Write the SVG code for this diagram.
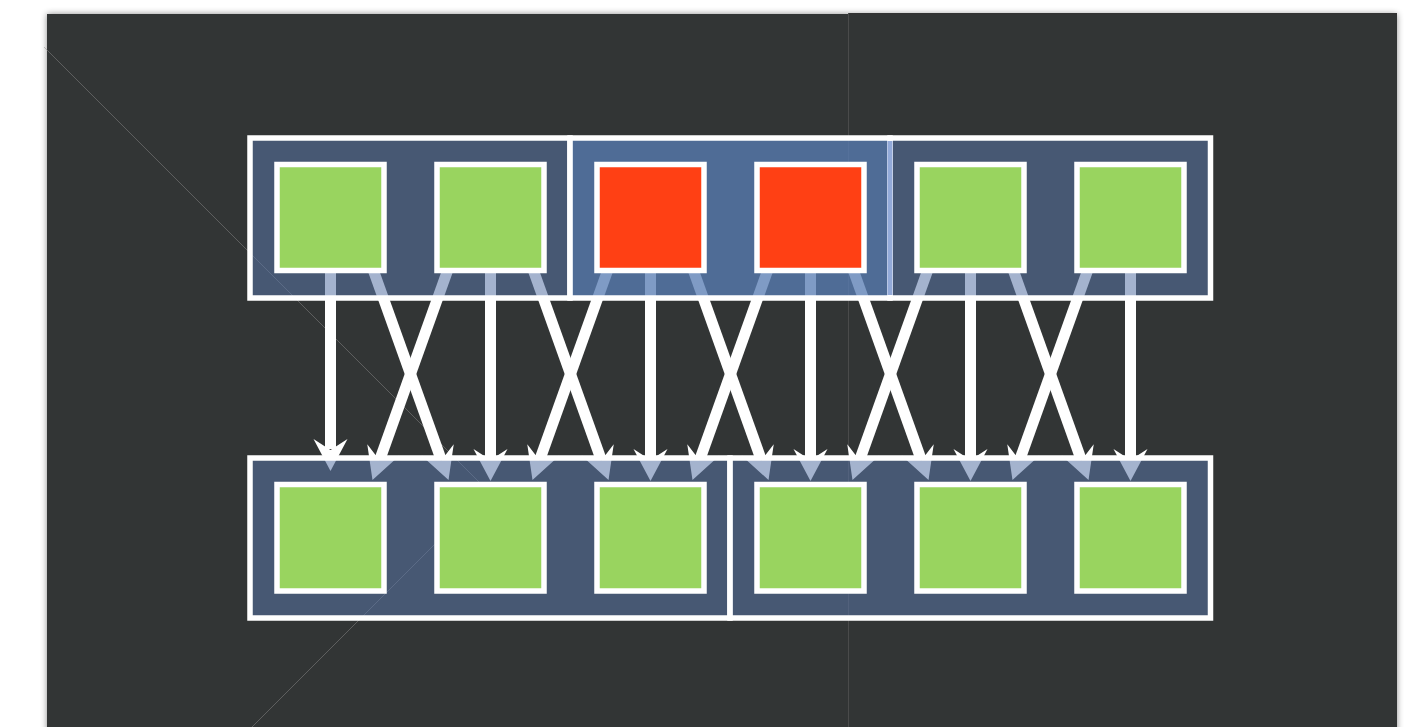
<svg xmlns="http://www.w3.org/2000/svg" width="1428" height="727" viewBox="0 0 1428 727">
  <defs>
    <style>
      .grp { fill: #5a74a5; fill-opacity: 0.55; stroke: #ffffff; stroke-width: 5.5; }
      .grp-hi { fill: #587db3; fill-opacity: 0.77; stroke: #ffffff; stroke-width: 5.5; }
      .node-ok { fill: #99d45f; stroke: #ffffff; stroke-width: 5.5; }
      .node-bad { fill: #ff4014; stroke: #ffffff; stroke-width: 5.5; }
      .edge { stroke: #ffffff; stroke-width: 11; fill: none; marker-end: url(#head); }
      .faint { stroke: #8a8a8a; stroke-width: 1; fill: none; opacity: 0.5; }
    </style>
    <marker id="head" markerUnits="userSpaceOnUse" orient="auto" refX="0" refY="0" markerWidth="40" markerHeight="40" viewBox="-12 -20 40 40" overflow="visible">
      <path d="M22,0 L-10,-17 L1,0 L-10,17 Z" fill="#ffffff"/>
    </marker>
    <filter id="shadow" x="-5%" y="-5%" width="110%" height="110%">
      <feDropShadow dx="0" dy="0" stdDeviation="3" flood-color="#000000" flood-opacity="0.45"/>
    </filter>
  </defs>

  <rect x="0" y="0" width="1428" height="727" fill="#ffffff"/>
  <rect id="board" x="47" y="14" width="1350" height="720" fill="#333434" filter="url(#shadow)"/>
  <rect x="848" y="13" width="549" height="2" fill="#333434"/>

  <g id="background-lines">
    <line x1="848.5" y1="13" x2="848.5" y2="727" stroke="#4a4b4b" stroke-width="1"/>
    <polyline class="faint" points="44,47 488,491 252,727"/>
  </g>

  <g id="connectors">
    <line class="edge" x1="330.5" y1="268" x2="330.5" y2="449"/>
    <line class="edge" x1="490.5" y1="268" x2="490.5" y2="459"/>
    <line class="edge" x1="650.5" y1="268" x2="650.5" y2="459"/>
    <line class="edge" x1="810.5" y1="268" x2="810.5" y2="459"/>
    <line class="edge" x1="970.5" y1="268" x2="970.5" y2="459"/>
    <line class="edge" x1="1130.5" y1="268" x2="1130.5" y2="459"/>

    <line class="edge" x1="372.5" y1="268" x2="441.1" y2="459.3"/>
    <line class="edge" x1="532.5" y1="268" x2="601.1" y2="459.3"/>
    <line class="edge" x1="692.5" y1="268" x2="761.1" y2="459.3"/>
    <line class="edge" x1="852.5" y1="268" x2="921.1" y2="459.3"/>
    <line class="edge" x1="1012.5" y1="268" x2="1081.1" y2="459.3"/>

    <line class="edge" x1="448.5" y1="268" x2="379.9" y2="459.3"/>
    <line class="edge" x1="608.5" y1="268" x2="539.9" y2="459.3"/>
    <line class="edge" x1="768.5" y1="268" x2="699.9" y2="459.3"/>
    <line class="edge" x1="928.5" y1="268" x2="859.9" y2="459.3"/>
    <line class="edge" x1="1088.5" y1="268" x2="1019.9" y2="459.3"/>
  </g>

  <g id="group-top-left"><rect class="grp" x="250" y="138" width="320" height="160"/></g>
  <g id="group-top-right"><rect class="grp" x="890" y="138" width="320.5" height="160"/></g>
  <g id="group-top-middle"><rect class="grp-hi" x="570" y="138" width="320" height="160"/></g>
  <rect x="887.5" y="141" width="5" height="154" fill="#93aad9"/>
  <g id="group-bottom-left"><rect class="grp" x="250" y="458" width="480" height="160"/></g>
  <g id="group-bottom-right"><rect class="grp" x="730" y="458" width="480.5" height="160"/></g>

  <g id="top-1"><rect class="node-ok" x="277" y="164.5" width="107" height="106"/></g>
  <g id="top-2"><rect class="node-ok" x="437" y="164.5" width="107" height="106"/></g>
  <g id="top-3"><rect class="node-bad" x="597" y="164.5" width="107" height="106"/></g>
  <g id="top-4"><rect class="node-bad" x="757" y="164.5" width="107" height="106"/></g>
  <g id="top-5"><rect class="node-ok" x="917" y="164.5" width="107" height="106"/></g>
  <g id="top-6"><rect class="node-ok" x="1077" y="164.5" width="107" height="106"/></g>

  <g id="bottom-1"><rect class="node-ok" x="277" y="484.5" width="107" height="106.5"/></g>
  <g id="bottom-2"><rect class="node-ok" x="437" y="484.5" width="107" height="106.5"/></g>
  <g id="bottom-3"><rect class="node-ok" x="597" y="484.5" width="107" height="106.5"/></g>
  <g id="bottom-4"><rect class="node-ok" x="757" y="484.5" width="107" height="106.5"/></g>
  <g id="bottom-5"><rect class="node-ok" x="917" y="484.5" width="107" height="106.5"/></g>
  <g id="bottom-6"><rect class="node-ok" x="1077" y="484.5" width="107" height="106.5"/></g>
</svg>
